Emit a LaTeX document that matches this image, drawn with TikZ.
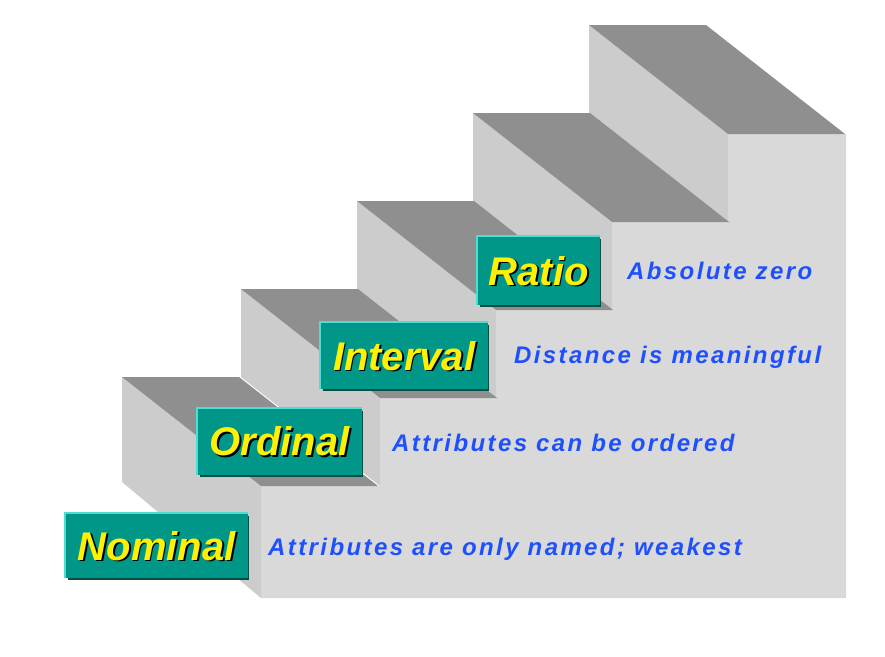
\documentclass[tikz,border=0pt]{standalone}
\usepackage{fontspec}
\setmainfont{Liberation Sans}
\definecolor{side}{RGB}{217,217,217}
\definecolor{riser}{RGB}{204,204,204}
\definecolor{tread}{RGB}{143,143,143}
\definecolor{teal1}{RGB}{0,150,136}
\definecolor{tealhi}{RGB}{80,220,210}
\definecolor{tealdk}{RGB}{0,80,70}
\definecolor{descblue}{RGB}{30,80,255}
\begin{document}
\begin{tikzpicture}[x=1pt,y=-1pt,
  lblfont/.style={font=\fontsize{40}{40}\selectfont\bfseries\itshape},
  desc/.style={text=descblue,font=\fontsize{24}{24}\selectfont\addfontfeature{LetterSpace=10}\bfseries\itshape,anchor=west,inner sep=0pt}]
\useasboundingbox (0,0) rectangle (885,656);
% side face
\fill[side] (261,598) -- (261,486) -- (380,486) -- (380,398) -- (496,398) -- (496,310) -- (612,310) -- (612,222) -- (728,222) -- (728,134) -- (846,134) -- (846,598) -- cycle;
% risers and treads
\foreach \l/\t in {589/25,473/113,357/201,241/289}{
  \fill[riser] (\l,\t) -- (\l+139,\t+109) -- (\l+139,\t+197) -- (\l,\t+88) -- cycle;
  \fill[tread] (\l,\t) -- (\l+117,\t) -- (\l+256,\t+109) -- (\l+139,\t+109) -- cycle;
}
\fill[riser] (122,377) -- (261,486) -- (261,598) -- (122,482) -- cycle;
\fill[tread] (122,377) -- (239,377) -- (378,486) -- (261,486) -- cycle;
% label boxes
\foreach \x/\y/\w/\h/\n/\t in {
  65/513/183/65/nom/Nominal,
  197/408/165/67/ord/Ordinal,
  320/322/168/67/int/Interval,
  477/236/123/69/rat/Ratio}{
  \fill[tealdk] (\x+3,\y+3) rectangle (\x+\w+1,\y+\h+2);
  \node (\n) [fill=teal1,minimum width=\w pt,minimum height=\h pt,anchor=north west,inner sep=0pt] at (\x,\y) {};
  \draw[tealhi,line width=1.2pt] (\n.south west) -- (\n.north west) -- (\n.north east);
  \node[text=black,lblfont] at ([shift={(1.8pt,-1.8pt)}]\n.center) {\t};
  \node (\n t) [text=yellow,lblfont] at (\n.center) {\t};
}
\node[desc] (dnom) at (268,549) {Attributes are only named; weakest};
\node[desc] (dord) at (392,443) {Attributes can be ordered};
\node[desc] (dint) at (514,357) {Distance is meaningful};
\node[desc] (drat) at (627,271) {Absolute zero};
\end{tikzpicture}
\end{document}
